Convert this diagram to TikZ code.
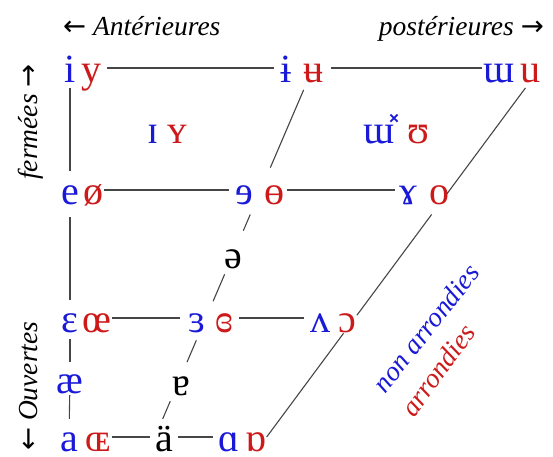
\documentclass[tikz,border=0pt]{standalone}
\usepackage{fontspec}
\setmainfont{Liberation Serif}
\newfontfamily\arrowfont{DejaVu Sans}
\usetikzlibrary{calc}
\definecolor{ipablue}{RGB}{25,25,215}
\definecolor{ipared}{RGB}{205,25,25}
\definecolor{linegray}{RGB}{70,70,70}
\begin{document}
\begin{tikzpicture}[x=1pt,y=-1pt,
  vow/.style={inner sep=0pt, anchor=base, text height=28pt, text depth=0pt,
    font=\fontsize{40}{40}\selectfont},
  B/.style={vow, text=ipablue},
  R/.style={vow, text=ipared},
  K/.style={vow, text=black},
  lbl/.style={inner sep=0pt, font=\fontsize{27.5}{30}\selectfont\itshape},
  ln/.style={draw=linegray, line width=1.1pt}]
\useasboundingbox (0,0) rectangle (553,456);
% labels
\node[lbl, anchor=base west] (ant) at (63,35) {{\arrowfont ←} Antérieures};
\node[lbl, anchor=base east] (post) at (544,35) {postérieures {\arrowfont →}};
\node[lbl, rotate=90, anchor=base east] (ferm) at (37,64) {fermées {\arrowfont →}};
\node[lbl, rotate=90, anchor=base west] (ouv) at (37,451) {{\arrowfont ←} Ouvertes};
\node[lbl, text=ipablue, rotate=52] (nonarr) at (426,328) {non arrondies};
\node[lbl, text=ipared, rotate=54] (arr) at (438,370) {arrondies};
% row 1
\node[B] (i) at (70,82) {i};
\node[R] (y) at (91,82) {y};
\node[B] (ibar) at (286,82) {ɨ};
\node[R] (ubar) at (313,82) {ʉ};
\node[B] (ww) at (499,82) {ɯ};
\node[R] (u) at (530,82) {u};
% near-close
\node[B] (smi) at (153,143) {ɪ};
\node[R] (smy) at (177,143) {ʏ};
\node[B] (wwx) at (379,143) {ɯ̽};
\node[R] (hu) at (418,143) {ʊ};
% row 2
\node[B] (e) at (70,204) {e};
\node[R] (oe) at (93,204) {ø};
\node[B] (revE) at (244,204) {ɘ};
\node[R] (obar) at (274,204) {ɵ};
\node[B] (ram) at (408,204) {ɤ};
\node[R] (o) at (439,204) {o};
\node[K] (schwa) at (233,268) {ə};
% row 3
\node[B] (eps) at (70,332) {ɛ};
\node[R] (oelig) at (97,332) {œ};
\node[B] (reps) at (197,332) {ɜ};
\node[R] (creps) at (224,332) {ɞ};
\node[B] (wedge) at (320,332) {ʌ};
\node[R] (oo) at (347,332) {ɔ};
\node[B] (ae) at (70,393) {æ};
\node[K] (turna) at (181,395) {ɐ};
% row 4
\node[B] (a) at (69,451) {a};
\node[R] (OE) at (98,451) {ɶ};
\node[K] (auml) at (164,451) {ä};
\node[B] (alpha) at (229,451) {ɑ};
\node[R] (turnalpha) at (256,451) {ɒ};
% horizontal lines
\draw[ln, shorten <=6pt, shorten >=6pt] (y) -- (ibar);
\draw[ln, shorten <=8pt, shorten >=1pt] (ubar) -- (ww);
\draw[ln, shorten <=1pt, shorten >=6pt] (oe) -- (revE);
\draw[ln, shorten <=3pt, shorten >=4pt] (obar) -- (ram);
\draw[ln, shorten <=0pt, shorten >=8pt] (oelig) -- (reps);
\draw[ln, shorten <=6pt, shorten >=6pt] (creps) -- (wedge);
\draw[ln, shorten <=1pt, shorten >=5pt] (OE) -- (auml);
\draw[ln, shorten <=5pt, shorten >=5pt] (auml) -- (alpha);
% left vertical
\draw[ln, shorten <=6pt, shorten >=5pt] (i) -- (e);
\draw[ln, shorten <=13pt, shorten >=4pt] (e) -- (eps);
\draw[ln, shorten <=7pt, shorten >=3pt] (eps) -- (ae);
\draw[ln, shorten <=2pt, shorten >=4pt] (ae) -- (a);
% central diagonal
\foreach \s/\t in {0.059/0.270, 0.397/0.441, 0.559/0.632, 0.738/0.797, 0.903/0.951}
  \draw[ln] ($(ubar)!\s!(auml.west)$) -- ($(ubar)!\t!(auml.west)$);
% right diagonal
\foreach \s/\t in {0.054/0.341, 0.397/0.670, 0.719/1.0}
  \draw[ln] ($(u.east)!\s!(turnalpha.east)$) -- ($(u.east)!\t!(turnalpha.east)$);
\end{tikzpicture}
\end{document}
